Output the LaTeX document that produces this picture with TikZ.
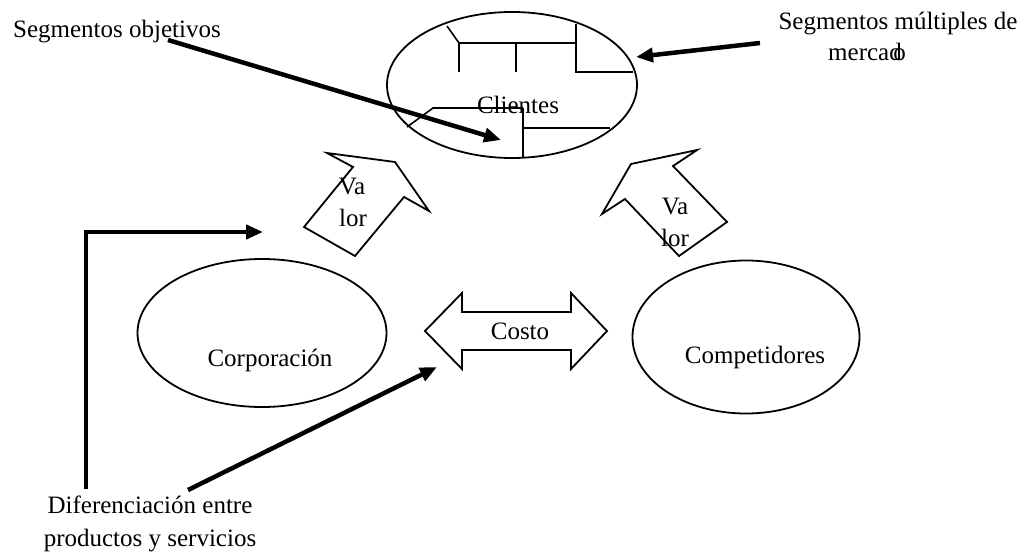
\documentclass[tikz,border=0pt]{standalone}
\usepackage{fontspec}
\setmainfont{Liberation Serif}
\usetikzlibrary{shapes.geometric,arrows.meta}

\tikzset{
  oval/.style={draw, ellipse, line width=1.8pt, inner sep=0pt},
  blockarrow/.style={draw, line width=1.8pt, line join=miter},
  pointer/.style={line width=4.5pt, -{Triangle[length=17pt,width=14pt]}},
  lbl/.style={inner sep=0pt, font=\fontsize{25}{33}\selectfont, align=center}
}

\begin{document}
\begin{tikzpicture}[x=1pt, y=-1pt]
\useasboundingbox (0,0) rectangle (1030,556);

% the three actors
\node[oval, minimum width=250pt, minimum height=146pt] (clientes) at (512,85) {};
\node[oval, minimum width=249pt, minimum height=148pt] (corp) at (262,333) {};
\node[oval, minimum width=227pt, minimum height=153pt] (comp) at (746,337) {};

% segment partitions inside the customer oval
\draw[line width=1.6pt] (447,26) -- (459,43) -- (576,43);
\draw[line width=1.6pt] (459,43) -- (459,72);
\draw[line width=1.6pt] (516,43) -- (516,72);
\draw[line width=1.6pt] (576,24) -- (576,72) -- (633,72);
\draw[line width=1.6pt] (407,127) -- (433,108) -- (523,108);
\draw[line width=1.6pt] (523,108) -- (523,158);
\draw[line width=1.6pt] (523,128) -- (610,128);

\node[lbl] (clientesT) at (518,105) {Clientes};
\node[lbl] (corpT) at (270,360) {Corporación};
\node[lbl] (compT) at (755,357) {Competidores};

% value arrows towards the customers
\draw[blockarrow] (304,227) -- (355,256) -- (404,197) -- (429,211) -- (395,162)
  -- (327,153) -- (353,167) -- cycle;
\draw[blockarrow] (602,214) -- (631,164) -- (697,150) -- (673,166) -- (727,222)
  -- (679,256) -- (625,199) -- cycle;
\node[lbl] (valorA1) at (352,187) {Va};
\node[lbl] (valorA2) at (353,218) {lor};
\node[lbl] (valorB1) at (675,207) {Va};
\node[lbl] (valorB2) at (675,238) {lor};

% cost double arrow
\draw[blockarrow] (425,331) -- (462,293) -- (462,312) -- (571,312) -- (571,293)
  -- (607,331) -- (571,369) -- (571,350) -- (462,350) -- (462,369) -- cycle;
\node[lbl] (costo) at (520,331) {Costo};

% annotations
\node[lbl] (segmul) at (898,24) {Segmentos múltiples de};
\node[lbl, anchor=west] (segmul2) at (828,52) {merca\makebox[0.16em][l]{d}o};
\node[lbl] (segobj) at (117,32) {Segmentos objetivos};
\node[lbl] (difer) at (150,524) {Diferenciación entre\\productos y servicios};

\coordinate (so1) at (168,40);
\coordinate (so2) at (501,140);
\coordinate (sm1) at (760,43);
\coordinate (sm2) at (636,57);
\coordinate (br1) at (86,489);
\coordinate (br2) at (86,232);
\coordinate (br3) at (263,232);
\coordinate (df1) at (188,490);
\coordinate (df2) at (437,367);

\draw[pointer] (so1) -- (so2);
\draw[pointer] (sm1) -- (sm2);
\draw[pointer, line join=miter] (br1) -- (br2) -- (br3);
\draw[pointer] (df1) -- (df2);
\end{tikzpicture}
\end{document}
